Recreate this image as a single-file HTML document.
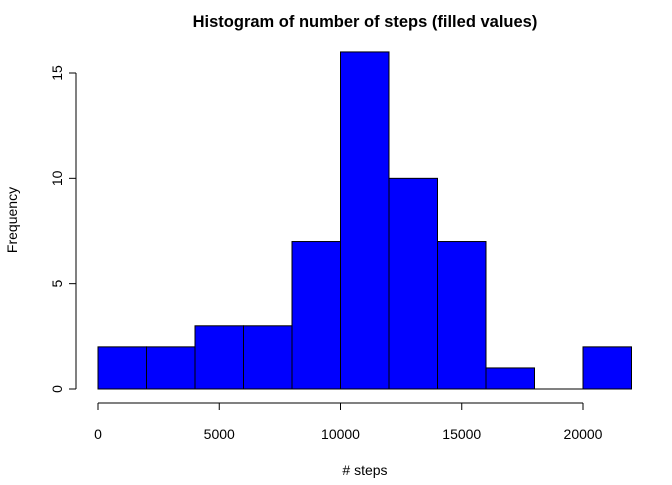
<!DOCTYPE html>
<html><head><meta charset="utf-8"><style>
body{margin:0;background:#fff;}
svg text{font-family:"Liberation Sans",sans-serif;}
</style></head><body>
<svg id="chart" width="672" height="480">
<text x="365" y="27" text-anchor="middle" font-size="16.5" font-weight="bold">Histogram of number of steps (filled values)</text>
<text x="365" y="475" text-anchor="middle" font-size="14"># steps</text>
<text transform="translate(17,220) rotate(-90)" text-anchor="middle" font-size="14">Frequency</text>
<g id="bars"></g><g id="axes"></g>
</svg>
<script>
const binStarts=[0,2000,4000,6000,8000,10000,12000,14000,16000,18000,20000];
const binWidth=2000;
const counts=[2,2,3,3,7,16,10,7,1,0,2];
const xTicks=[0,5000,10000,15000,20000];
const yTicks=[0,5,10,15];
const NS="http://www.w3.org/2000/svg";
const xs=v=>98+(v/20000)*485;
const ys=v=>389-(v/15)*316;
const bars=document.getElementById('bars'),axes=document.getElementById('axes');
function mk(t,a,p){const e=document.createElementNS(NS,t);for(const k in a)e.setAttribute(k,a[k]);p.appendChild(e);return e;}
counts.forEach((c,i)=>{
  const x0=xs(binStarts[i]),x1=xs(binStarts[i]+binWidth);
  let r;
  if(c===0){
    r=mk('line',{x1:x0,x2:x1,y1:ys(0),y2:ys(0),stroke:'#000','stroke-width':1},bars);
  }else{
    r=mk('rect',{x:x0,y:ys(c),width:x1-x0,height:ys(0)-ys(c),fill:'#0000ff',stroke:'#000','stroke-width':1},bars);
  }
  
  
});
const xa=mk('line',{x1:xs(xTicks[0]),x2:xs(xTicks[xTicks.length-1]),y1:403,y2:403,stroke:'#000'},axes);


xTicks.forEach(t=>{
  mk('line',{x1:xs(t),x2:xs(t),y1:403,y2:410,stroke:'#000'},axes);
  const tx=mk('text',{x:xs(t),y:439,'text-anchor':'middle','font-size':14},axes);tx.textContent=t;
  
  
});
const ya=mk('line',{x1:76,x2:76,y1:ys(yTicks[0]),y2:ys(yTicks[yTicks.length-1]),stroke:'#000'},axes);


yTicks.forEach(t=>{
  mk('line',{x1:69,x2:76,y1:ys(t),y2:ys(t),stroke:'#000'},axes);
  const tx=mk('text',{transform:'translate(62,'+ys(t)+') rotate(-90)','text-anchor':'middle','font-size':14},axes);tx.textContent=t;
  
  
});
</script>
</body></html>
